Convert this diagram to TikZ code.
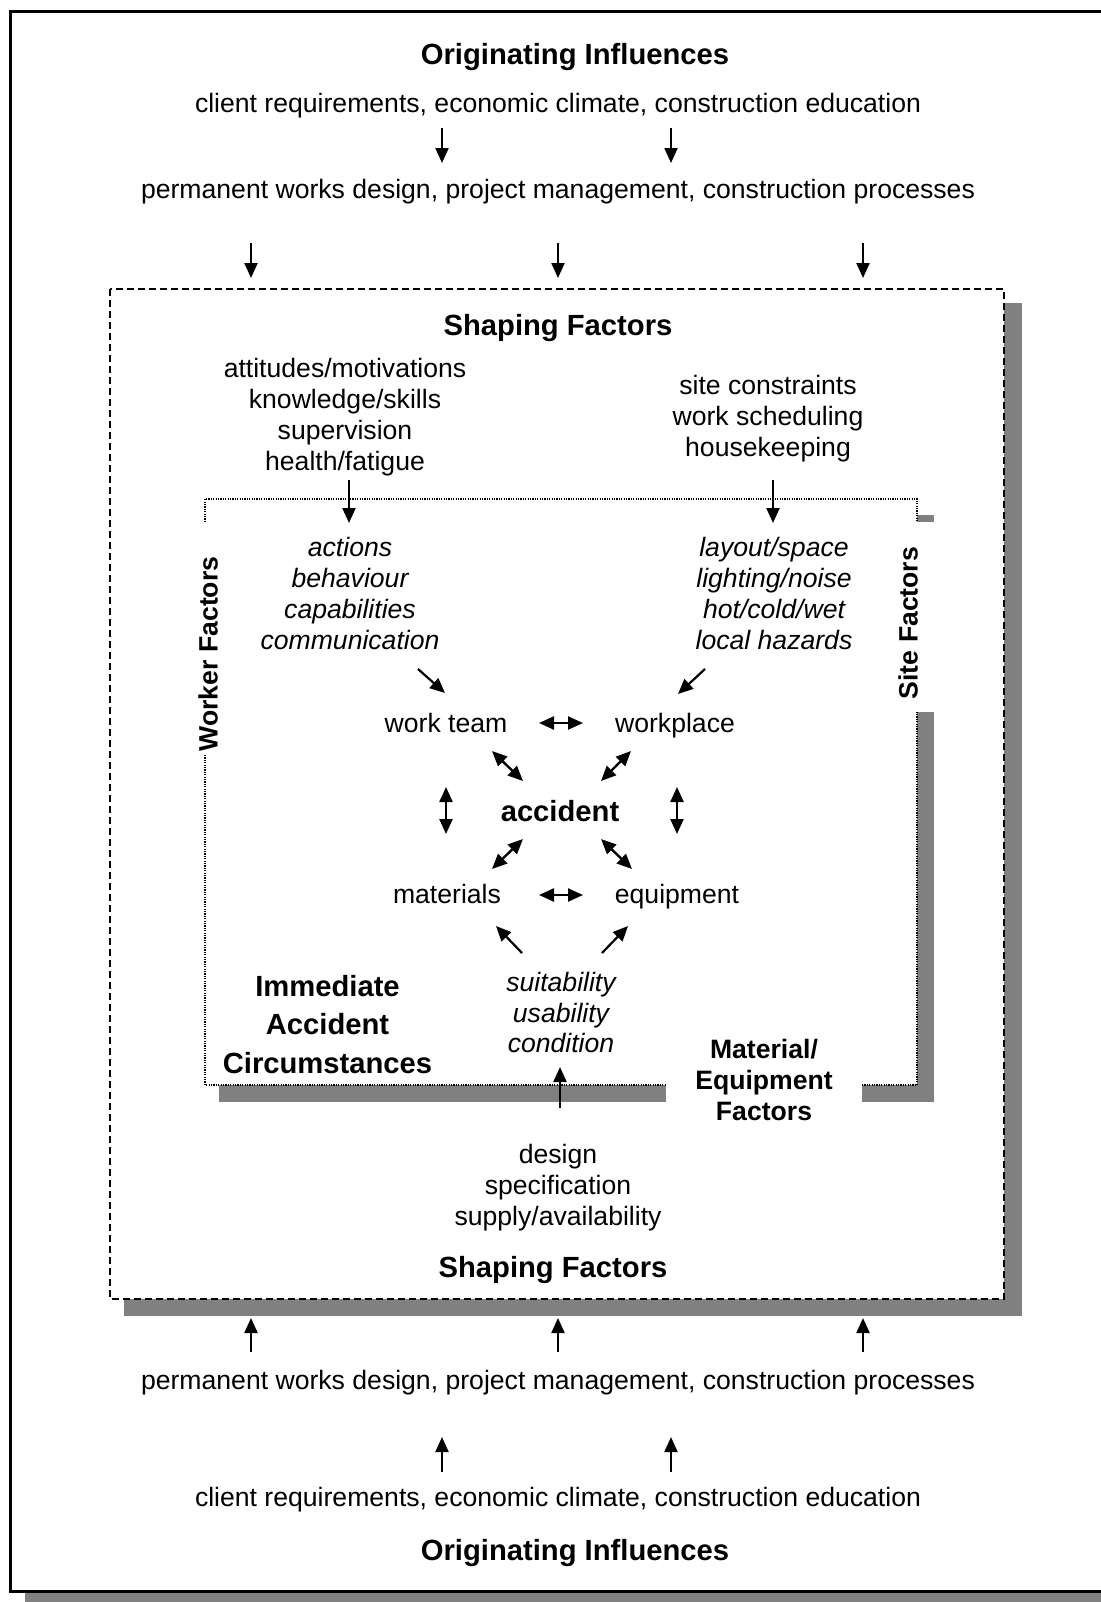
\documentclass[tikz,border=0pt]{standalone}
\usepackage{fontspec}
\setmainfont{Liberation Sans}
\usetikzlibrary{arrows.meta}
\definecolor{shadowgray}{HTML}{808080}
\begin{document}
\begin{tikzpicture}[x=0.5pt,y=-0.5pt,
  txt/.style={font=\fontsize{13.3}{15.5}\selectfont, align=center, inner sep=0pt},
  itl/.style={font=\fontsize{13.3}{15.35}\selectfont\itshape, align=center, inner sep=0pt},
  ttl/.style={font=\fontsize{14.6}{19.4}\selectfont\bfseries, align=center, inner sep=0pt},
  lbl/.style={font=\fontsize{13.3}{15.3}\selectfont\bfseries, align=center, inner sep=0pt},
  arr/.style={line width=1.1pt, -{Triangle[length=7.5pt,width=6.5pt]}},
  darr/.style={line width=1.2pt, {Triangle[length=7.5pt,width=6.5pt]}-{Triangle[length=7.5pt,width=6.5pt]}},
  dotline/.style={line width=0.6pt, dash pattern=on 0.6pt off 0.6pt},
  strip/.style={fill=shadowgray, draw=none},
]
\useasboundingbox (0,0) rectangle (1100,1602);

% outer frame with its drop shadow
\path[strip] (25,1593) rectangle (1130,1610);
\draw[line width=1.5pt] (1120,11) -- (10.5,11) -- (10.5,1591) -- (1120,1591);

% dashed frame of the shaping factors, with shadow
\path[strip] (124,303) rectangle (1022,1316);
\filldraw[fill=white, line width=0.8pt, dash pattern=on 3.5pt off 2pt] (110,289) rectangle (1004,1299);

% dotted frame of the immediate circumstances, with shadow strips
\path[strip] (917,515) rectangle (934,522);
\path[strip] (917,712) rectangle (934,1102);
\path[strip] (219,1085) rectangle (666,1102);
\path[strip] (862,1085) rectangle (934,1102);
\draw[dotline] (205,522) -- (205,499) -- (917,499) -- (917,522);
\draw[dotline] (205,755) -- (205,1085) -- (666,1085);
\draw[dotline] (862,1085) -- (917,1085) -- (917,712);

% texts
\node[ttl] (oi1) at (575,57) {Originating Influences};
\node[txt] (cr1) at (558,106) {client requirements, economic climate, construction education};
\node[txt] (pw1) at (558,192) {permanent works design, project management, construction processes};
\node[ttl] (sf1) at (558,328) {Shaping Factors};
\node[txt] (wsf) at (345,417.5) {attitudes/motivations\\knowledge/skills\\supervision\\health/fatigue};
\node[txt] (ssf) at (768,418.5) {site constraints\\work scheduling\\housekeeping};
\node[itl] (wif) at (350,593.5) {actions\\behaviour\\capabilities\\communication};
\node[itl] (sif) at (774,593.5) {layout/space\\lighting/noise\\hot/cold/wet\\local hazards};
\node[lbl, rotate=90] (wf) at (208,654) {Worker Factors};
\node[lbl, rotate=90] (sfl) at (908,623) {Site Factors};
\node[txt] (wt) at (446,723) {work team};
\node[txt] (wp) at (675,726) {workplace};
\node[ttl] (acc) at (560,811) {accident};
\node[txt] (mat) at (447,894) {materials};
\node[txt] (eq) at (677,897) {equipment};
\node[itl] (mif) at (561,1012.5) {suitability\\usability\\condition};
\node[ttl] (iac) at (327.5,1024.5) {Immediate\\Accident\\Circumstances};
\node[lbl] (mef) at (764,1080) {Material/\\Equipment\\Factors};
\node[txt] (msf) at (558,1188) {design\\specification\\supply/availability};
\node[ttl] (sf2) at (553,1269.5) {Shaping Factors};
\node[txt] (pw2) at (558,1383) {permanent works design, project management, construction processes};
\node[txt] (cr2) at (558,1499.5) {client requirements, economic climate, construction education};
\node[ttl] (oi2) at (575,1553) {Originating Influences};

% arrows between the rows of influences
\foreach \x/\n in {442/a,671/b} {
  \coordinate (ua\n) at (\x,128); \coordinate (ub\n) at (\x,163);
  \draw[arr] (ua\n) -- (ub\n);
  \coordinate (la\n) at (\x,1472); \coordinate (lb\n) at (\x,1437);
  \draw[arr] (la\n) -- (lb\n);
}
\foreach \x/\n in {251/a,558/b,863/c} {
  \coordinate (uc\n) at (\x,243); \coordinate (ud\n) at (\x,278);
  \draw[arr] (uc\n) -- (ud\n);
  \coordinate (lc\n) at (\x,1352); \coordinate (ld\n) at (\x,1318);
  \draw[arr] (lc\n) -- (ld\n);
}

% shaping factors into the immediate circumstances
\coordinate (ws) at (349,480); \coordinate (we) at (349,523);
\coordinate (ss) at (773,480); \coordinate (se) at (773,523);
\coordinate (ms) at (560,1108); \coordinate (me) at (560,1067);
\draw[arr] (ws) -- (we);
\draw[arr] (ss) -- (se);
\draw[arr] (ms) -- (me);

% circumstances onto the four elements
\coordinate (d1s) at (418,669); \coordinate (d1e) at (445,693);
\coordinate (d2s) at (705,669); \coordinate (d2e) at (678,694);
\coordinate (d3s) at (522,953); \coordinate (d3e) at (496,926);
\coordinate (d4s) at (602,953); \coordinate (d4e) at (628,926);
\draw[arr] (d1s) -- (d1e);
\draw[arr] (d2s) -- (d2e);
\draw[arr] (d3s) -- (d3e);
\draw[arr] (d4s) -- (d4e);

% interactions around the accident
\coordinate (h1a) at (539,723); \coordinate (h1b) at (583,723);
\coordinate (h2a) at (539,895); \coordinate (h2b) at (583,895);
\coordinate (v1a) at (446,787); \coordinate (v1b) at (446,834);
\coordinate (v2a) at (677,787); \coordinate (v2b) at (677,834);
\coordinate (x1a) at (492,751); \coordinate (x1b) at (523,781);
\coordinate (x2a) at (631,751); \coordinate (x2b) at (601,781);
\coordinate (x3a) at (523,839); \coordinate (x3b) at (492,869);
\coordinate (x4a) at (601,839); \coordinate (x4b) at (632,869);
\draw[darr] (h1a) -- (h1b);
\draw[darr] (h2a) -- (h2b);
\draw[darr] (v1a) -- (v1b);
\draw[darr] (v2a) -- (v2b);
\draw[darr] (x1a) -- (x1b);
\draw[darr] (x2a) -- (x2b);
\draw[darr] (x3a) -- (x3b);
\draw[darr] (x4a) -- (x4b);
\end{tikzpicture}
\end{document}
